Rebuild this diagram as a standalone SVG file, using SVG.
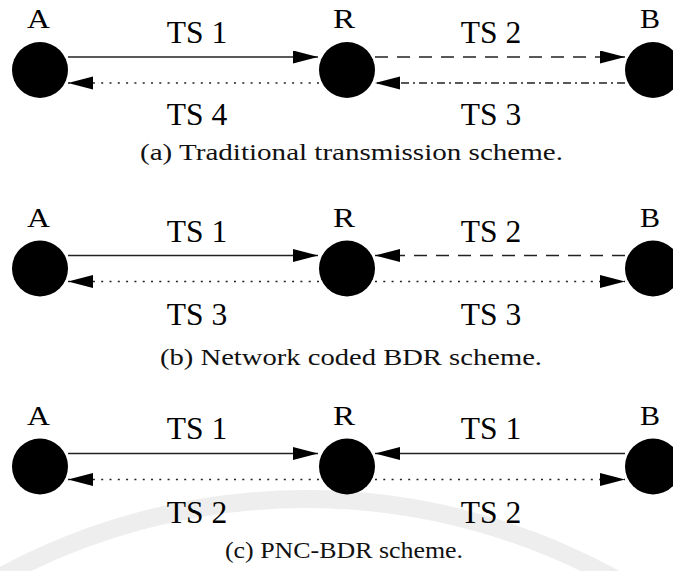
<svg xmlns="http://www.w3.org/2000/svg" width="673" height="571" viewBox="0 0 673 571">
  <style>
    .node { fill: #000; }
    .lbl { font-family: "Liberation Serif", "Times New Roman", serif; font-size: 28px; text-anchor: middle; fill: #000; }
    .ts { font-family: "Liberation Serif", "Times New Roman", serif; font-size: 31.5px; text-anchor: middle; fill: #000; }
    .cap { font-family: "Liberation Serif", "Times New Roman", serif; font-size: 23px; fill: #111; }
    .link { fill: none; stroke: #222; stroke-width: 1.6; }
    .dash { stroke-dasharray: 13 9; }
    .dot { stroke-dasharray: 2 6.3; }
    .dashdot { stroke-dasharray: 8 4 2 4; }
    .mark { fill: none; stroke: #eeeeee; stroke-width: 18; }
  </style>
  <defs>
    <marker id="head" markerUnits="userSpaceOnUse" markerWidth="26" markerHeight="14" refX="25" refY="6.5" orient="auto">
      <path d="M0,0 L25,6.5 L0,13 Z" fill="#000"/>
    </marker>
  </defs>
  <rect width="673" height="571" fill="#fff"/>

  <!-- faint background ring -->
  <path class="mark" d="M-10,582.5 A640,640 0 0 1 620,581.5"/>

  <!-- (a) traditional scheme -->
  <g id="panel-a">
    <g id="a-connectors">
      <path class="link" d="M68,57 H318" marker-end="url(#head)"/>
      <path class="link dot" d="M319,83 H68" marker-end="url(#head)"/>
      <path class="link dash" d="M375,57 H625" marker-end="url(#head)"/>
      <path class="link dashdot" d="M625,83 H375" marker-end="url(#head)"/>
    </g>
    <g id="a-node-A"><circle class="node" cx="40" cy="70" r="28"/><text class="lbl" x="38.5" y="28" textLength="23" lengthAdjust="spacingAndGlyphs">A</text></g>
    <g id="a-node-R"><circle class="node" cx="347" cy="70" r="28"/><text class="lbl" x="344" y="28" textLength="22" lengthAdjust="spacingAndGlyphs">R</text></g>
    <g id="a-node-B"><circle class="node" cx="653" cy="70" r="28"/><text class="lbl" x="650" y="28" textLength="20" lengthAdjust="spacingAndGlyphs">B</text></g>
    <text class="ts" x="197" y="43">TS 1</text>
    <text class="ts" x="197" y="125">TS 4</text>
    <text class="ts" x="491" y="43">TS 2</text>
    <text class="ts" x="491" y="125">TS 3</text>
    <text class="cap" x="140" y="160" textLength="423" lengthAdjust="spacingAndGlyphs">(a) Traditional transmission scheme.</text>
  </g>

  <!-- (b) network coded BDR -->
  <g id="panel-b" transform="translate(0,198.5)">
    <g id="b-connectors">
      <path class="link" d="M68,57 H318" marker-end="url(#head)"/>
      <path class="link dot" d="M319,83 H68" marker-end="url(#head)"/>
      <path class="link dash" d="M625,57 H375" marker-end="url(#head)"/>
      <path class="link dot" d="M375,83 H625" marker-end="url(#head)"/>
    </g>
    <g id="b-node-A"><circle class="node" cx="40" cy="70" r="28"/><text class="lbl" x="38.5" y="28.5" textLength="23" lengthAdjust="spacingAndGlyphs">A</text></g>
    <g id="b-node-R"><circle class="node" cx="347" cy="70" r="28"/><text class="lbl" x="344" y="28.5" textLength="22" lengthAdjust="spacingAndGlyphs">R</text></g>
    <g id="b-node-B"><circle class="node" cx="653" cy="70" r="28"/><text class="lbl" x="650" y="28.5" textLength="20" lengthAdjust="spacingAndGlyphs">B</text></g>
    <text class="ts" x="197" y="43">TS 1</text>
    <text class="ts" x="197" y="126">TS 3</text>
    <text class="ts" x="491" y="43">TS 2</text>
    <text class="ts" x="491" y="126">TS 3</text>
    <text class="cap" x="160" y="166" textLength="382" lengthAdjust="spacingAndGlyphs">(b) Network coded BDR scheme.</text>
  </g>

  <!-- (c) PNC-BDR -->
  <g id="panel-c" transform="translate(0,396.5)">
    <g id="c-connectors">
      <path class="link" d="M68,57 H318" marker-end="url(#head)"/>
      <path class="link dot" d="M319,83 H68" marker-end="url(#head)"/>
      <path class="link" d="M625,57 H375" marker-end="url(#head)"/>
      <path class="link dot" d="M375,83 H625" marker-end="url(#head)"/>
    </g>
    <g id="c-node-A"><circle class="node" cx="40" cy="70" r="28"/><text class="lbl" x="38.5" y="28" textLength="23" lengthAdjust="spacingAndGlyphs">A</text></g>
    <g id="c-node-R"><circle class="node" cx="347" cy="70" r="28"/><text class="lbl" x="344" y="28" textLength="22" lengthAdjust="spacingAndGlyphs">R</text></g>
    <g id="c-node-B"><circle class="node" cx="653" cy="70" r="28"/><text class="lbl" x="650" y="28" textLength="20" lengthAdjust="spacingAndGlyphs">B</text></g>
    <text class="ts" x="197" y="42.5">TS 1</text>
    <text class="ts" x="197" y="126">TS 2</text>
    <text class="ts" x="491" y="42.5">TS 1</text>
    <text class="ts" x="491" y="126">TS 2</text>
    <text class="cap" x="225" y="161" textLength="238" lengthAdjust="spacingAndGlyphs">(c) PNC-BDR scheme.</text>
  </g>
</svg>
